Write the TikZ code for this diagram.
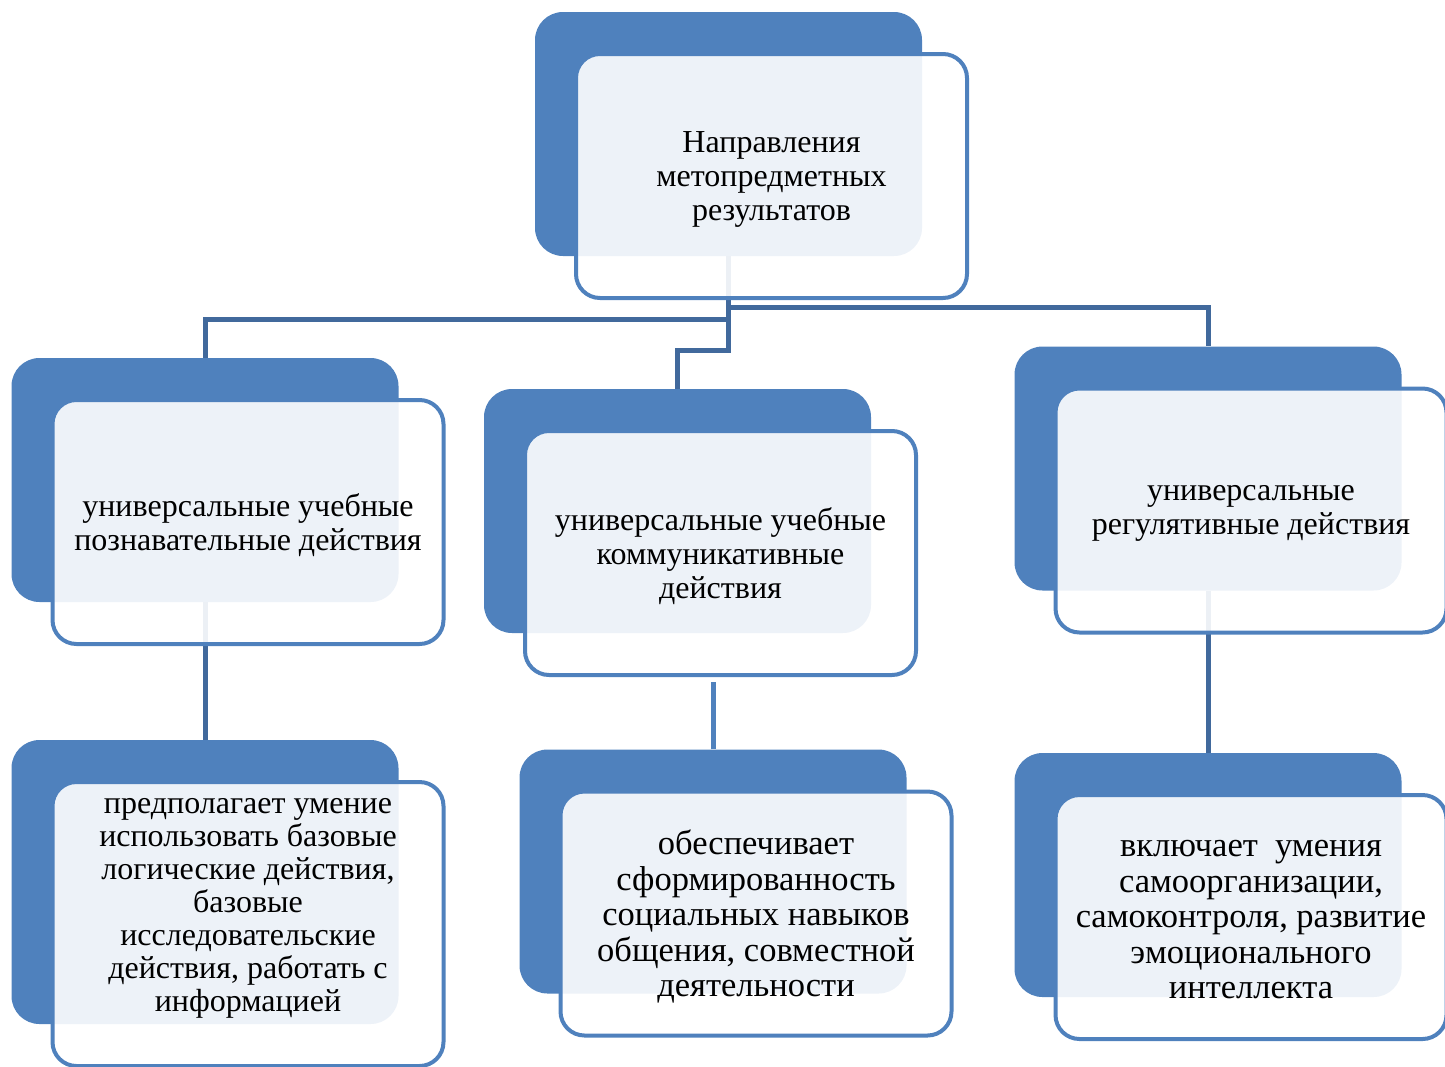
\documentclass[tikz,border=0pt]{standalone}
\usepackage{fontspec}
\setmainfont{Liberation Serif}
\usepackage{tikz}
\definecolor{boxblue}{HTML}{4F81BD}
\definecolor{linkblue}{HTML}{41699C}

\begin{document}
\begin{tikzpicture}[x=1pt,y=-1pt,
  back/.style={fill=boxblue,rounded corners=28pt,minimum width=387pt,minimum height=244pt,inner sep=0pt},
  front/.style={draw=boxblue,line width=4pt,fill=white,fill opacity=0.9,rounded corners=24pt,minimum width=391pt,minimum height=244pt,inner sep=0pt},
  txt/.style={align=center,yshift=-3pt,font=\fontsize{32}{34}\selectfont},
  bigtxt/.style={txt,font=\fontsize{34.5}{35.5}\selectfont},
  link/.style={draw=linkblue,line width=5pt}]
\useasboundingbox (0,0) rectangle (1445,1066);

\node[back] (tb) at (728.5,134) {};
\node[back] (lb) at (205,480) {};
\node[back] (mb) at (677.5,511) {};
\node[back] (rb) at (1208,468.5) {};
\node[back,minimum height=284pt] (lb3) at (205,882) {};
\node[back] (mb3) at (713,871.5) {};
\node[back] (rb3) at (1208,875) {};

\coordinate (yr) at (0,307);
\coordinate (yl) at (0,319);
\coordinate (ym) at (0,350);
\draw[link] (tb.south) -- (tb.south |- yl) -| (lb.north);
\draw[link] (tb.south) -- (tb.south |- ym) -| (mb.north);
\draw[link] (tb.south) -- (tb.south |- yr) -| (rb.north);
\draw[link] (lb.south) -- (lb3.north);
\draw[link] (rb.south) -- (rb3.north);

\node[front] (tf) at ([shift={(43,42)}]tb.center) {};
\node[front] (lf) at ([shift={(43,42)}]lb.center) {};
\node[front] (mf) at ([shift={(43,42)}]mb.center) {};
\node[front] (rf) at ([shift={(43,42)}]rb.center) {};
\node[front,minimum height=284pt] (lf3) at ([shift={(43,42)}]lb3.center) {};
\node[front] (mf3) at ([shift={(43,42)}]mb3.center) {};
\node[front] (rf3) at ([shift={(43,42)}]rb3.center) {};

\draw[link,draw=boxblue] (mb3.north) -- ([yshift=-5]mb3.north |- mf.south);

\node[txt] (tt) at (tf.center) {Направления\\метопредметных\\результатов};
\node[txt] (lt) at (lf.center) {универсальные учебные\\познавательные действия};
\node[txt] (mt) at (mf.center) {универсальные учебные\\коммуникативные\\действия};
\node[txt] (rt) at (rf.center) {универсальные\\регулятивные действия};
\node[txt,font=\fontsize{32}{33}\selectfont] (lt3) at ([yshift=19]lf3.center) {предполагает умение\\использовать базовые\\логические действия,\\базовые\\исследовательские\\действия, работать с\\информацией};
\node[bigtxt] (mt3) at (mf3.center) {обеспечивает\\сформированность\\социальных навыков\\общения, совместной\\деятельности};
\node[bigtxt] (rt3) at (rf3.center) {включает \ умения\\самоорганизации,\\самоконтроля, развитие\\эмоционального\\интеллекта};
\end{tikzpicture}
\end{document}
